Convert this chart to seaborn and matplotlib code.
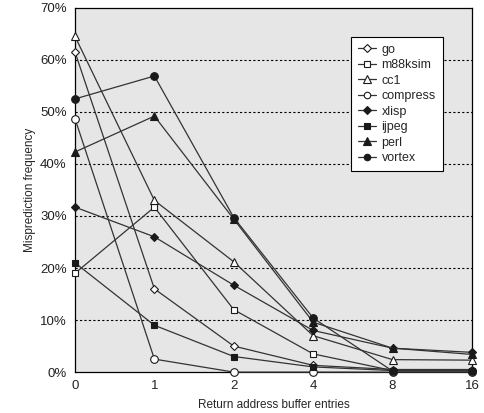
import numpy as np
import pandas as pd
import matplotlib
matplotlib.use('Agg')
import matplotlib.pyplot as plt
import seaborn as sns
from matplotlib.ticker import MultipleLocator, FuncFormatter

entries = ['0', '1', '2', '4', '8', '16']
go = [61.5, 16.0, 5.0, 1.3, 0.5, 0.5]
m88ksim = [19.0, 31.7, 12.0, 3.5, 0.3, 0.3]
cc1 = [64.5, 33.0, 21.2, 7.0, 2.4, 2.3]
compress = [48.7, 2.5, 0.0, 0.0, 0.0, 0.0]
xlisp = [31.7, 26.0, 16.7, 8.0, 4.6, 3.8]
ijpeg = [21.0, 9.0, 3.0, 1.0, 0.3, 0.3]
perl = [42.3, 49.2, 29.4, 9.6, 4.6, 3.4]
vortex = [52.5, 56.9, 29.7, 10.4, 0.2, 0.2]

series = {'go': go, 'm88ksim': m88ksim, 'cc1': cc1, 'compress': compress,
          'xlisp': xlisp, 'ijpeg': ijpeg, 'perl': perl, 'vortex': vortex}
markers = {'go': ('D', 'white', 4.5), 'm88ksim': ('s', 'white', 5),
           'cc1': ('^', 'white', 6.3), 'compress': ('o', 'white', 5.5),
           'xlisp': ('D', '#1a1a1a', 4.5), 'ijpeg': ('s', '#1a1a1a', 4.8),
           'perl': ('^', '#1a1a1a', 6.3), 'vortex': ('o', '#1a1a1a', 5.5)}

rows = []
for name, vals in series.items():
    for i, v in enumerate(vals):
        rows.append({'pos': i, 'value': v, 'bench': name})
df = pd.DataFrame(rows)

sns.set_style('white')
plt.rcParams['font.family'] = ['Liberation Sans', 'DejaVu Sans']
plt.rcParams['font.size'] = 8.5

fig = plt.figure(figsize=(4.84, 4.13), dpi=100)
ax = fig.add_axes([0.155, 0.099, 0.82, 0.882])
ax.set_facecolor('#e6e6e6')

for name in series:
    m, fc, ms = markers[name]
    sns.lineplot(data=df[df['bench'] == name], x='pos', y='value', ax=ax,
                 color='#333333', linewidth=0.9, marker=m, markersize=ms,
                 markerfacecolor=fc, markeredgecolor='#1a1a1a',
                 markeredgewidth=0.8, label=name, clip_on=False, zorder=3)

ax.set_xlim(0, 5)
ax.set_ylim(0, 70)
ax.set_xticks(range(len(entries)))
ax.set_xticklabels(entries)
ax.xaxis.set_minor_locator(MultipleLocator(0.5))
ax.yaxis.set_major_locator(MultipleLocator(10))
ax.yaxis.set_major_formatter(FuncFormatter(lambda v, p: f'{int(v)}%'))
for y in range(10, 70, 10):
    ax.axhline(y, color='black', linestyle=(0, (2, 2)), linewidth=0.8, zorder=1)

ax.tick_params(axis='x', which='both', direction='in', length=4, width=0.8,
               colors='black', labelcolor='#222222', pad=6, labelsize=9.5)
ax.tick_params(axis='y', direction='out', length=4, width=0.8, pad=2,
               labelcolor='#222222', labelsize=9.5)
for s in ax.spines.values():
    s.set_color('black')
    s.set_linewidth(0.9)

ax.set_xlabel('Return address buffer entries', labelpad=5)
ax.set_ylabel('Misprediction frequency', labelpad=3)

leg = ax.legend(loc='upper left', bbox_to_anchor=(0.695, 0.92), frameon=True,
                fancybox=False, edgecolor='black', framealpha=1,
                borderaxespad=0, markerscale=0.85,
                handlelength=1.5, handletextpad=0.4, labelspacing=0.28,
                borderpad=0.55, fontsize=9)
leg.get_frame().set_linewidth(0.8)

fig.savefig('out.png', dpi=100)
